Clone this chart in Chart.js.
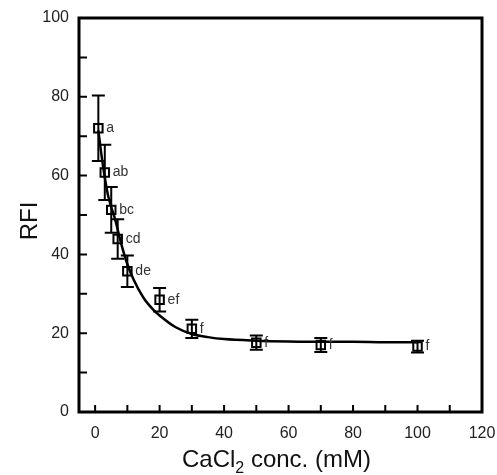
<!DOCTYPE html>
<html>
<head>
<meta charset="utf-8">
<script src="https://cdn.jsdelivr.net/npm/chart.js@4/dist/chart.umd.min.js"></script>
<style>
  html, body { margin: 0; padding: 0; background: #fff; }
</style>
</head>
<body>
<canvas id="chart" width="497" height="475"></canvas>
<script>
'use strict';
// measured points (CaCl2 conc. in mM) with SD and significance letters
const conc = [1, 3, 5, 7, 10, 20, 30, 50, 70, 100];
const rfi = [72.0, 60.8, 51.3, 43.9, 35.7, 28.5, 21.1, 17.6, 17.0, 16.6];
const rfiErr = [8.3, 7.0, 5.8, 5.0, 4.0, 3.0, 2.3, 1.8, 1.8, 1.5];
const letters = ['a', 'ab', 'bc', 'cd', 'de', 'ef', 'f', 'f', 'f', 'f'];

// fitted curve
const fitX = [1, 2, 3, 4, 5, 6, 8, 10, 12, 15, 18, 20, 25, 30, 35, 40, 50, 60, 70, 80, 90, 100];
const fitY = [71.5, 65, 59.5, 55, 52, 49.5, 43, 37.5, 33.5, 29, 26, 24.5, 21.5, 19.8, 19, 18.5, 18.1, 17.9, 17.8, 17.8, 17.7, 17.7];

const xTicks = [0, 20, 40, 60, 80, 100, 120];
const yTicks = [0, 20, 40, 60, 80, 100];
const xMinor = [0, 10, 20, 30, 40, 50, 60, 70, 80, 90, 100, 110, 120];
const yMinor = [0, 10, 20, 30, 40, 50, 60, 70, 80, 90, 100];

const FONT = "'Liberation Sans', Arial, sans-serif";

// frame, inward ticks, error bars, letters and axis titles
const decor = {
  id: 'decor',
  afterDatasetsDraw(chart) {
    const {ctx, scales: {x, y}} = chart;
    ctx.save();
    ctx.strokeStyle = '#000';
    ctx.lineWidth = 2;
    conc.forEach((c, i) => {
      const px = x.getPixelForValue(c);
      const top = y.getPixelForValue(rfi[i] + rfiErr[i]);
      const bot = y.getPixelForValue(rfi[i] - rfiErr[i]);
      ctx.beginPath();
      ctx.moveTo(px, top);
      ctx.lineTo(px, bot);
      ctx.moveTo(px - 6.5, top);
      ctx.lineTo(px + 6.5, top);
      ctx.moveTo(px - 6.5, bot);
      ctx.lineTo(px + 6.5, bot);
      ctx.stroke();
    });
    ctx.fillStyle = '#333';
    ctx.font = '14px ' + FONT;
    ctx.textAlign = 'left';
    ctx.textBaseline = 'middle';
    conc.forEach((c, i) => {
      ctx.fillText(letters[i], x.getPixelForValue(c) + 8, y.getPixelForValue(rfi[i]));
    });
    ctx.restore();
  },
  afterDraw(chart) {
    const {ctx, chartArea: a, scales: {x, y}} = chart;
    ctx.save();
    ctx.strokeStyle = '#000';
    ctx.lineWidth = 2;
    ctx.beginPath();
    xMinor.forEach((v) => {
      const px = x.getPixelForValue(v);
      ctx.moveTo(px, a.bottom);
      ctx.lineTo(px, a.bottom - 7);
    });
    yMinor.forEach((v) => {
      const py = y.getPixelForValue(v);
      ctx.moveTo(a.left, py);
      ctx.lineTo(a.left + 8, py);
    });
    ctx.stroke();
    ctx.lineWidth = 3;
    ctx.strokeRect(a.left, a.top, a.right - a.left, a.bottom - a.top);

    // axis titles
    ctx.fillStyle = '#111';
    ctx.textBaseline = 'alphabetic';
    ctx.textAlign = 'left';
    ctx.font = '24px ' + FONT;
    let tx = 182;
    const ty = 467;
    ctx.fillText('CaCl', tx, ty);
    tx += ctx.measureText('CaCl').width;
    ctx.font = '16px ' + FONT;
    ctx.fillText('2', tx, ty + 6);
    tx += ctx.measureText('2').width;
    ctx.font = '24px ' + FONT;
    ctx.fillText(' conc. (mM)', tx, ty);

    ctx.translate(37, 221);
    ctx.rotate(-Math.PI / 2);
    ctx.textAlign = 'center';
    ctx.font = '24px ' + FONT;
    ctx.fillText('RFI', 0, 0);
    ctx.restore();
  },
};

const ctx = document.getElementById('chart');
const chart = new Chart(ctx, {
  data: {
    datasets: [
      {
        type: 'line',
        data: fitX.map((v, i) => ({x: v, y: fitY[i]})),
        borderColor: '#000',
        borderWidth: 2.5,
        pointRadius: 0,
        cubicInterpolationMode: 'monotone',
        fill: false,
      },
      {
        type: 'scatter',
        data: conc.map((v, i) => ({x: v, y: rfi[i]})),
        pointStyle: 'rect',
        pointRadius: 6,
        borderWidth: 2,
        borderColor: '#000',
        backgroundColor: 'rgba(0,0,0,0)',
      },
    ],
  },
  options: {
    responsive: false,
    animation: false,
    layout: {
      padding: {top: 18, right: 15, left: 0, bottom: 0},
    },
    scales: {
      x: {
        type: 'linear',
        min: -5,
        max: 120,
        afterBuildTicks: (s) => {
          s.ticks = xTicks.map((v) => ({value: v}));
        },
        afterFit: (s) => {
          s.height = 63;
          s.paddingLeft = 0;
          s.paddingRight = 0;
        },
        grid: {display: false, drawTicks: false},
        border: {display: false},
        ticks: {
          padding: 12,
          color: '#222',
          maxRotation: 0,
          font: {size: 16, family: FONT},
        },
      },
      y: {
        type: 'linear',
        min: 0,
        max: 100,
        afterBuildTicks: (s) => {
          s.ticks = yTicks.map((v) => ({value: v}));
        },
        afterFit: (s) => {
          s.width = 79;
          s.paddingTop = 0;
          s.paddingBottom = 0;
        },
        grid: {display: false, drawTicks: false},
        border: {display: false},
        ticks: {
          padding: 10,
          color: '#222',
          font: {size: 16, family: FONT},
        },
      },
    },
    plugins: {
      legend: {display: false},
      tooltip: {enabled: false},
    },
  },
  plugins: [decor],
});
</script>
</body>
</html>
